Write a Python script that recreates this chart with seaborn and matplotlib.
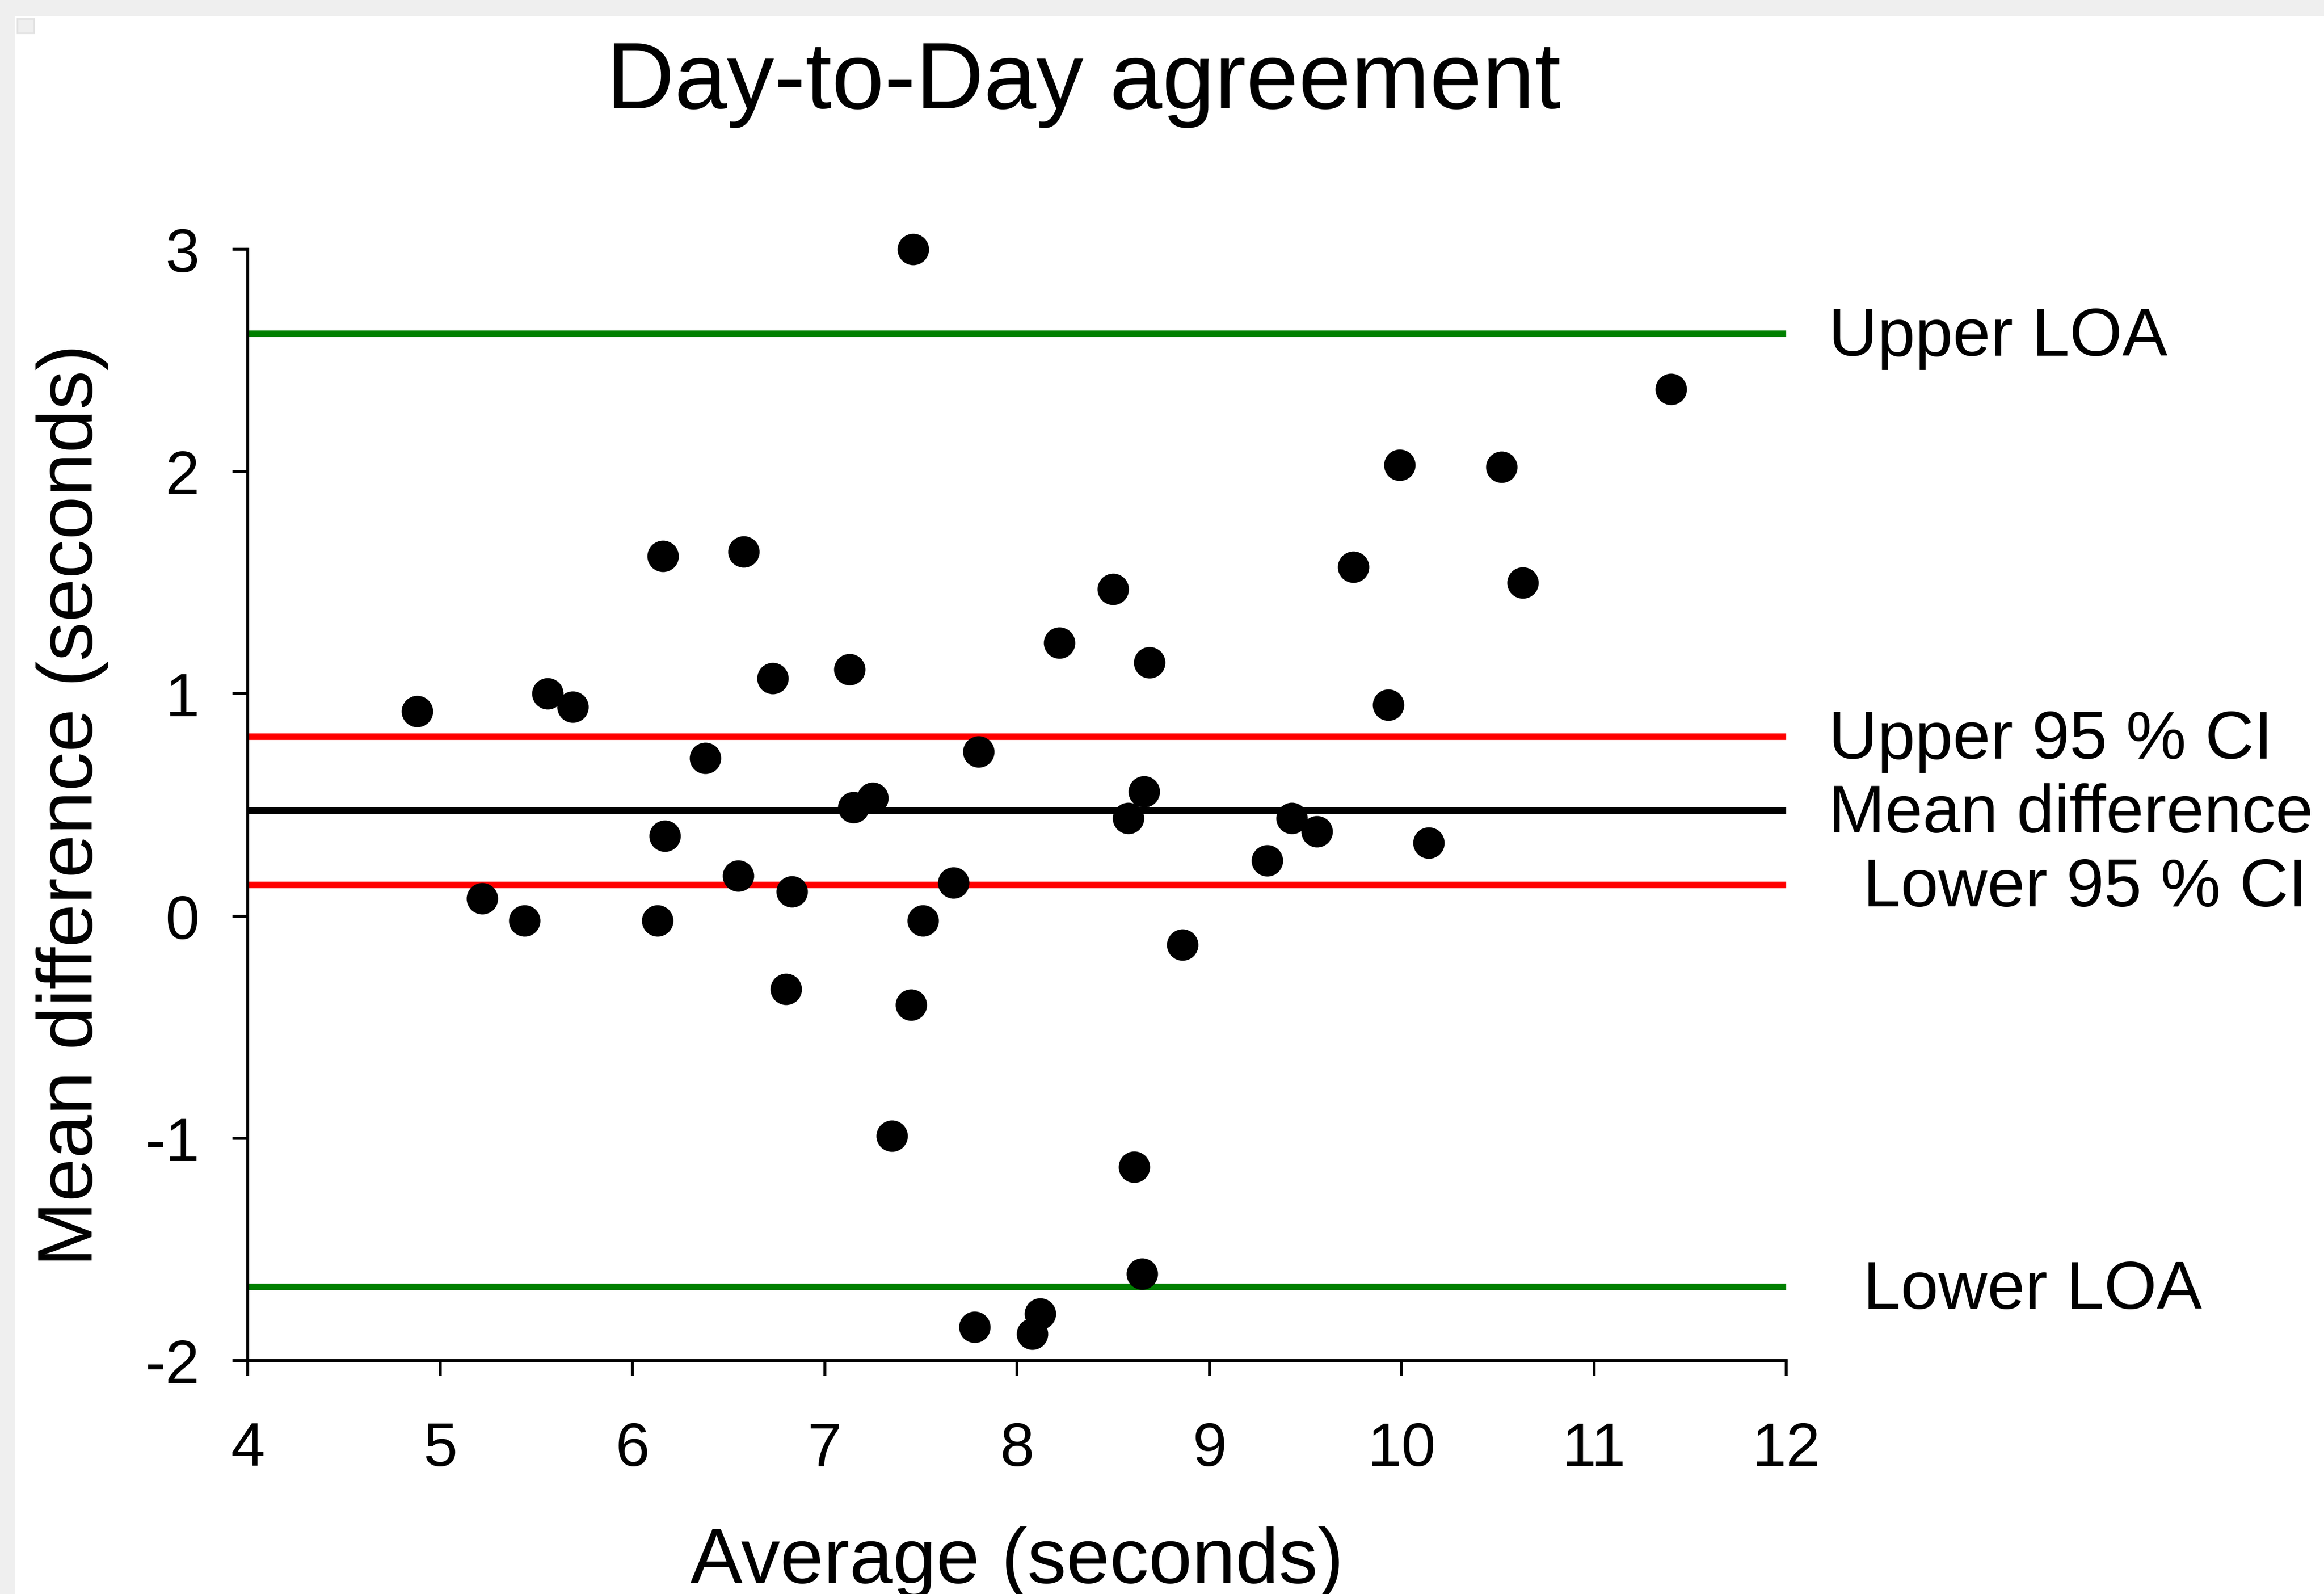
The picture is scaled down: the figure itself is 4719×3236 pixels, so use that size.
#!/usr/bin/env python3
# -*- coding: utf-8 -*-
"""
Bland-Altman plot - day-to-day agreement
"""

import numpy as np
import pandas as pd
import matplotlib
matplotlib.use('Agg')
import matplotlib.pyplot as plt
from matplotlib.patches import Rectangle
import seaborn as sns

# Dados
media = [4.88, 5.22, 5.44, 5.56, 5.69, 6.16, 6.13, 6.17, 6.38, 6.55,
         6.58, 6.73, 6.80, 6.83, 7.13, 7.15, 7.25, 7.35, 7.45, 7.46,
         7.51, 7.67, 7.78, 7.80, 8.08, 8.12, 8.22, 8.50, 8.58, 8.61,
         8.65, 8.66, 8.69, 8.86, 9.30, 9.43, 9.56, 9.75, 9.93, 9.99,
         10.14, 10.52, 10.63, 11.40]
diferenca = [0.92, 0.08, -0.02, 1.00, 0.94, 1.62, -0.02, 0.36, 0.71, 0.18,
             1.64, 1.07, -0.33, 0.11, 1.11, 0.49, 0.53, -0.99, -0.40, 3.00,
             -0.02, 0.15, -1.85, 0.74, -1.88, -1.79, 1.23, 1.47, 0.44, -1.13,
             -1.61, 0.56, 1.14, -0.13, 0.25, 0.44, 0.38, 1.57, 0.95, 2.03,
             0.33, 2.02, 1.50, 2.37]

linhas_valor = [2.62, 0.808, 0.475, 0.142, -1.667]
linhas_cor = ['#008000', '#ff0000', '#000000', '#ff0000', '#008000']
linhas_nome = ['Upper LOA', 'Upper 95 % CI', 'Mean difference',
               'Lower 95 % CI', 'Lower LOA']
linhas_x_texto = [12.22, 12.22, 12.22, 12.40, 12.40]

x_ticks = [4, 5, 6, 7, 8, 9, 10, 11, 12]
y_ticks = [-2, -1, 0, 1, 2, 3]

df = pd.DataFrame({'media': media, 'diferenca': diferenca})

sns.set_theme(style='ticks')
plt.rcParams['font.family'] = ['Liberation Sans', 'DejaVu Sans']
plt.rcParams['axes.unicode_minus'] = False

W, H = 4719, 3237
DPI = 300
fig = plt.figure(figsize=(W / DPI, H / DPI), dpi=DPI, facecolor='white')

# moldura cinza (esquerda e topo)
fig.patches.append(Rectangle((0, 0), 31 / W, 1, transform=fig.transFigure,
                             facecolor='#efefef', edgecolor='none', zorder=0))
fig.patches.append(Rectangle((0, 1 - 34 / H), 1, 34 / H, transform=fig.transFigure,
                             facecolor='#efefef', edgecolor='none', zorder=0))
fig.patches.append(Rectangle((35 / W, 1 - 68 / H), 34 / W, 29 / H,
                             transform=fig.transFigure, facecolor='#efefef',
                             edgecolor='#e2e2e2', linewidth=0.8, zorder=0))

left, right = 503 / W, 3627 / W
bottom, top = 1 - 2763 / H, 1 - 507 / H
ax = fig.add_axes([left, bottom, right - left, top - bottom])
ax.set_facecolor('none')

for val, cor in zip(linhas_valor, linhas_cor):
    ax.axhline(val, color=cor, lw=3.2, zorder=2)

sns.scatterplot(data=df, x='media', y='diferenca', ax=ax, color='black',
                s=235, linewidth=0, zorder=3, clip_on=False)

for val, nome, xt in zip(linhas_valor, linhas_nome, linhas_x_texto):
    ax.annotate(nome, xy=(xt, val), xytext=(0, -10.5), textcoords='offset points',
                ha='left', va='baseline', fontsize=33, color='black',
                annotation_clip=False)

ax.set_xlim(4, 12)
ax.set_ylim(-2, 3)
ax.set_xticks(x_ticks)
ax.set_yticks(y_ticks)
ax.set_xticklabels([str(t) for t in x_ticks])
ax.set_yticklabels([str(t) for t in y_ticks])

sns.despine(ax=ax)
for s in ['left', 'bottom']:
    ax.spines[s].set_linewidth(1.4)
    ax.spines[s].set_color('black')

ax.tick_params(axis='both', direction='out', length=7.5, width=1.4,
               color='black', labelsize=30, labelcolor='black')
ax.tick_params(axis='x', pad=22)
ax.tick_params(axis='y', pad=16)

ax.set_xlabel('Average (seconds)', fontsize=38, color='black')
ax.set_ylabel('Mean difference (seconds)', fontsize=38, color='black')
ax.xaxis.set_label_coords(0.5, -0.149)
ax.yaxis.set_label_coords(-0.0906, 0.5)

fig.text(2200 / W, 1 - 220 / H, 'Day-to-Day agreement', ha='center',
         va='baseline', fontsize=46, color='black')

fig.savefig('out.png', dpi=DPI, facecolor='white')
plt.close(fig)
